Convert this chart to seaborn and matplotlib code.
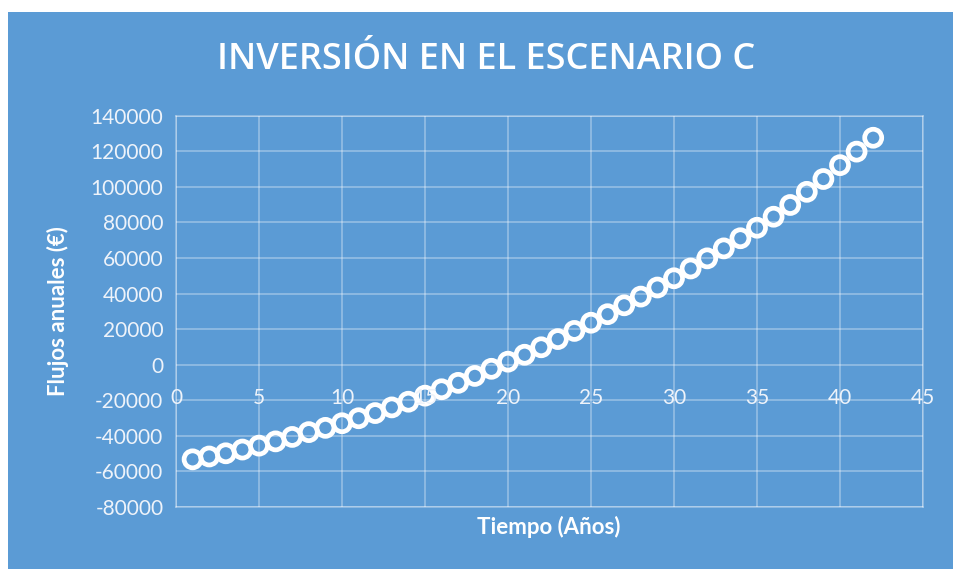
import matplotlib
matplotlib.use("Agg")
import matplotlib.pyplot as plt
from matplotlib.patches import Rectangle
import seaborn as sns
import pandas as pd

# Annual cash flows for scenario C
anios = list(range(1, 43))
flujos = [
    -53200, -51600, -49800, -47700, -45500, -43100, -40600, -37900, -35500, -32900,
    -30100, -27200, -24000, -20800, -17400, -13800, -10200, -6300, -2300, 1700,
    5600, 9800, 14400, 19000, 23600, 28400, 33400, 38300, 43400, 48600,
    54100, 59800, 65400, 71100, 77000, 83200, 89800, 97200, 104400, 112200,
    119800, 127600,
]
x_ticks = list(range(0, 46, 5))
y_ticks = list(range(-80000, 140001, 20000))

titulo = "INVERSIÓN EN EL ESCENARIO C"
etiqueta_x = "Tiempo (Años)"
etiqueta_y = "Flujos anuales (€)"

AZUL = "#5B9BD5"
TEXTO = "#EEF3FA"

sns.set_theme(style="white")
plt.rcParams["font.family"] = ["Lato", "DejaVu Sans"]

W, H = 954, 569
fig = plt.figure(figsize=(W / 100, H / 100), dpi=100, facecolor="white")

# blue chart area with a thin white margin at the top and left
bg = fig.add_axes([0, 0, 1, 1], zorder=-5)
bg.set_axis_off()
bg.set_xlim(0, W)
bg.set_ylim(0, H)
bg.add_patch(Rectangle((8, 0), W - 8, H - 12, facecolor=AZUL, edgecolor="none"))

ax = fig.add_axes([176 / W, 1 - 507 / H, (923 - 176) / W, (507 - 115.7) / H])
ax.set_facecolor("none")

df = pd.DataFrame({"anio": anios, "flujo": flujos})
sns.scatterplot(data=df, x="anio", y="flujo", ax=ax, marker="o", s=150,
                facecolor="none", edgecolor="white", linewidth=3.4, zorder=3)

ax.set_xlim(0, 45)
ax.set_ylim(-80000, 140000)
ax.set_xticks(x_ticks)
ax.set_yticks(y_ticks)

grid_kw = dict(color="white", alpha=0.38, linewidth=1.1)
ax.grid(True, **grid_kw)
ax.set_axisbelow(True)
for side in ["left", "right", "top", "bottom"]:
    ax.spines[side].set_color((1, 1, 1, 0.38))
    ax.spines[side].set_linewidth(1.1)

# horizontal axis labels sit on the zero line
ax.tick_params(axis="both", length=0)
ax.set_xticklabels([])
for xv in x_ticks:
    ax.annotate(str(xv), xy=(xv, 0), xycoords="data", xytext=(0, -17),
                textcoords="offset points", ha="center", va="top",
                fontsize=15, color=TEXTO)
ax.set_yticklabels([str(v) for v in y_ticks], fontsize=15, color=TEXTO)
ax.tick_params(axis="y", pad=9)

ax.set_xlabel("")
ax.set_ylabel("")
fig.text(549 / W, 1 - 527 / H, etiqueta_x, ha="center", va="center",
         fontsize=16, fontweight="bold", color="white")
fig.text(58 / W, 1 - 311 / H, etiqueta_y, ha="center", va="center",
         rotation=90, fontsize=16, fontweight="bold", color="white")

fig.text(486 / W, 1 - 60 / H, titulo, ha="center", va="center",
         fontsize=26, fontweight="semibold", color="white",
         family=["Open Sans", "DejaVu Sans"])

fig.savefig("out.png", dpi=100, facecolor="white")
